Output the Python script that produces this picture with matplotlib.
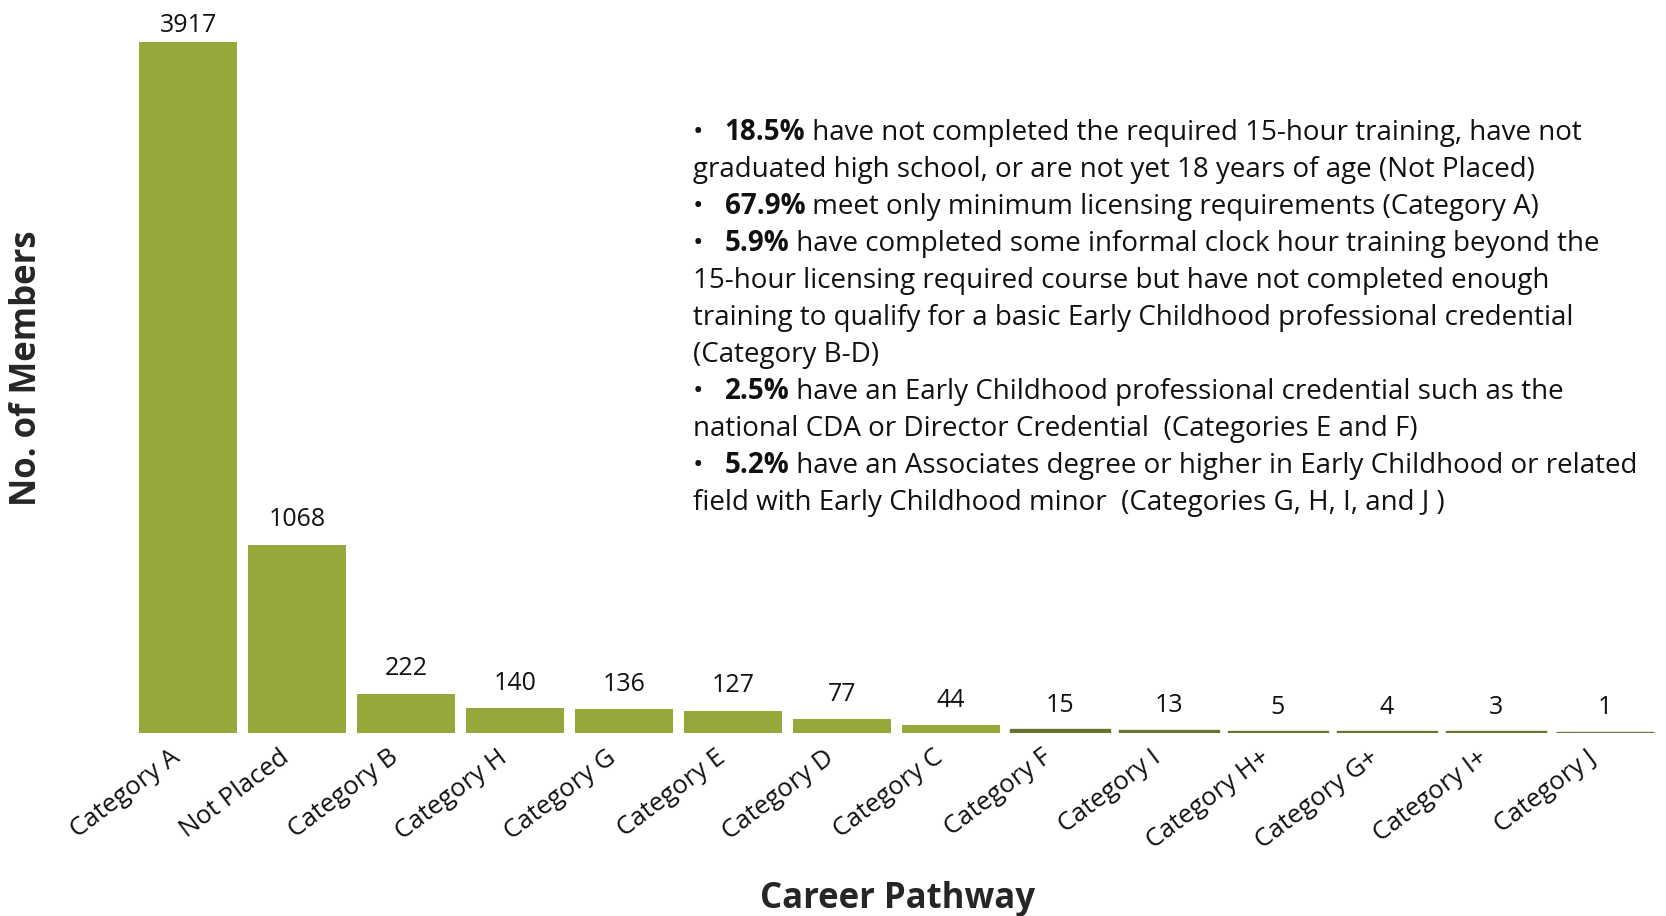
import matplotlib
matplotlib.use('Agg')
import matplotlib.pyplot as plt
from matplotlib.transforms import ScaledTranslation, blended_transform_factory

plt.rcParams['font.family'] = ['Open Sans', 'DejaVu Sans']

# Career pathway counts
categories = ['Category A', 'Not Placed', 'Category B', 'Category H', 'Category G',
              'Category E', 'Category D', 'Category C', 'Category F', 'Category I',
              'Category H+', 'Category G+', 'Category I+', 'Category J']
members = [3917, 1068, 222, 140, 136, 127, 77, 44, 15, 13, 5, 4, 3, 1]

# Note block: bold percentage + rest of bullet (continuation lines follow)
note_pcts = ['18.5%', '67.9%', '5.9%', '2.5%', '5.2%']
note_lines = [
    ['have not completed the required 15-hour training, have not',
     'graduated high school, or are not yet 18 years of age (Not Placed)'],
    ['meet only minimum licensing requirements (Category A)'],
    ['have completed some informal clock hour training beyond the',
     '15-hour licensing required course but have not completed enough',
     'training to qualify for a basic Early Childhood professional credential',
     '(Category B-D)'],
    ['have an Early Childhood professional credential such as the',
     'national CDA or Director Credential  (Categories E and F)'],
    ['have an Associates degree or higher in Early Childhood or related',
     'field with Early Childhood minor  (Categories G, H, I, and J )'],
]

W, H = 1666, 916
fig = plt.figure(figsize=(W / 100, H / 100), dpi=100)
ax = fig.add_axes([133.6 / W, 1 - 733 / H, 1525.6 / W, 733 / H])

light = '#97a83b'
dark = '#667631'
is_small = [v < 20 for v in members]
colors = [dark if s else light for s in is_small]
x = list(range(len(categories)))
bars = ax.bar(x, members, width=0.9, color=colors, edgecolor=colors,
              linewidth=[2.4 if s else 0 for s in is_small])
labels = ax.bar_label(bars, padding=9, fontsize=18, color='#111111')
# tallest label sits a little closer to its bar (no room above)
top = members.index(max(members))
labels[top].xyann = (0, 3)

ax.set_xlim(-0.5, len(categories) - 0.5)
ax.set_ylim(0, 4158)
for s in ax.spines.values():
    s.set_visible(False)
ax.set_yticks([])
ax.set_xticks([])

# category labels, rotated, right end near bar centre
tr = blended_transform_factory(ax.transData, ax.transAxes) + \
    ScaledTranslation(-0.18, -0.12, fig.dpi_scale_trans)
for i, c in zip(x, categories):
    ax.text(i, 0, c, transform=tr, rotation=37, ha='right', va='top',
            rotation_mode='anchor', fontsize=18.5, color='#111111', clip_on=False)

fig.text(897 / W, 1 - 908 / H, 'Career Pathway', fontsize=25, fontweight='bold',
         color='#262626', ha='center', va='baseline')
fig.text(27 / W, 1 - 368 / H, 'No. of Members', rotation=90, fontsize=25,
         fontweight='bold', color='#262626', ha='center', va='center')

# note text
line_h = 37.0
y = 132.8
for pct, lines in zip(note_pcts, note_lines):
    fig.text(693 / W, 1 - y / H, '•', fontsize=20, va='center', color='#111111')
    b = fig.text(724.6 / W, 1 - y / H, pct, fontsize=20, fontweight='bold',
                 va='center', color='#111111')
    ax.annotate(' ' + lines[0], xy=(1, 0), xycoords=b, va='bottom', ha='left',
                fontsize=20, color='#111111', annotation_clip=False)
    y += line_h
    for ln in lines[1:]:
        fig.text(693 / W, 1 - y / H, ln, fontsize=20, va='center', color='#111111')
        y += line_h

fig.savefig('out.png', dpi=100)
